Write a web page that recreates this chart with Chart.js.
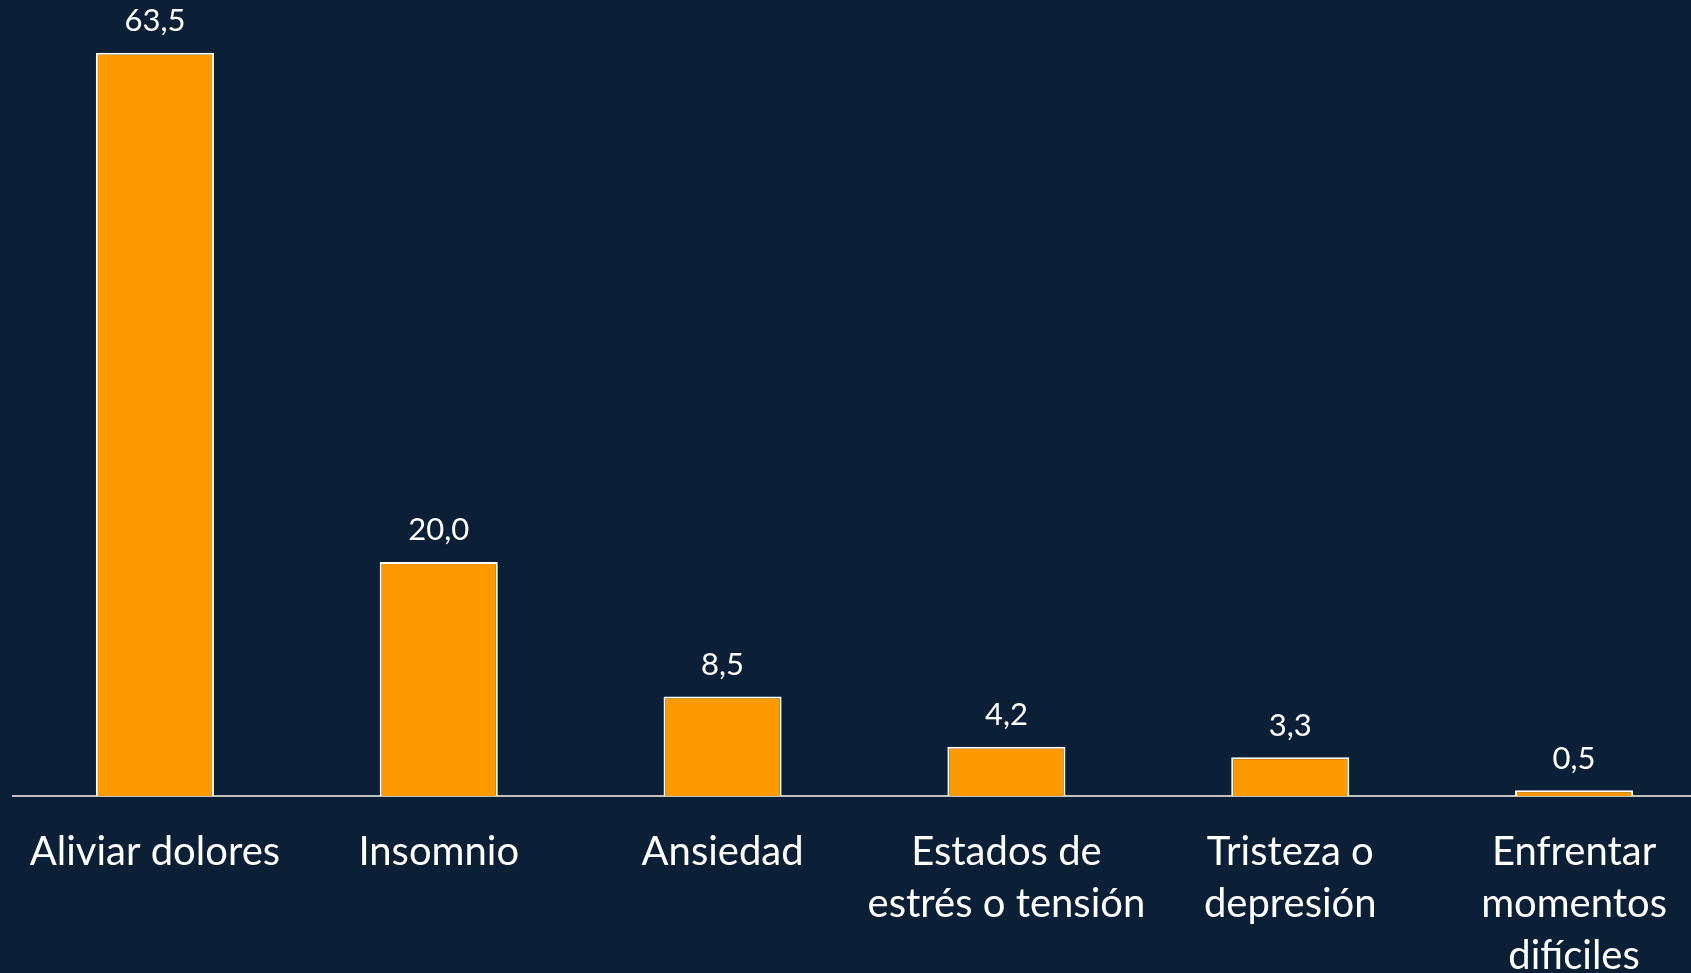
<!DOCTYPE html>
<html>
<head>
<meta charset="utf-8">
<script src="https://cdn.jsdelivr.net/npm/chart.js@4/dist/chart.umd.min.js"></script>
<style>
  html, body { margin: 0; padding: 0; background: #0b2037; overflow: hidden; }
  #wrap { width: 1716px; height: 973px; }
</style>
</head>
<body>
<div id="wrap"><canvas id="chart" width="1716" height="973"></canvas></div>
<script>
const categories = [
  'Aliviar dolores',
  'Insomnio',
  'Ansiedad',
  ['Estados de', 'estrés o tensión'],
  ['Tristeza o', 'depresión'],
  ['Enfrentar', 'momentos', 'difíciles']
];
const values = [63.5, 20.0, 8.5, 4.2, 3.3, 0.5];

const fontName = 'Lato, "Open Sans", sans-serif';

// draws the value above each bar, with a decimal comma
const valueLabels = {
  id: 'valueLabels',
  afterDatasetsDraw(chart) {
    const ctx = chart.ctx;
    const meta = chart.getDatasetMeta(0);
    ctx.save();
    ctx.fillStyle = '#ffffff';
    ctx.font = '31px ' + fontName;
    ctx.textAlign = 'center';
    ctx.textBaseline = 'bottom';
    meta.data.forEach((bar, i) => {
      ctx.fillText(values[i].toFixed(1).replace('.', ','), bar.x, bar.y - 16);
    });
    ctx.restore();
  }
};

new Chart(document.getElementById('chart'), {
  type: 'bar',
  data: {
    labels: categories,
    datasets: [{
      data: values,
      backgroundColor: '#ff9900',
      borderColor: '#ffffff',
      borderWidth: 2,
      categoryPercentage: 1,
      barPercentage: 0.416
    }]
  },
  options: {
    responsive: false,
    animation: false,
    layout: { padding: { left: 13, right: 0, top: 0, bottom: 0 } },
    plugins: { legend: { display: false }, tooltip: { enabled: false } },
    scales: {
      x: {
        grid: { display: false },
        border: { display: true, color: '#bfbfbf', width: 2 },
        ticks: {
          color: '#ffffff',
          font: { family: fontName, size: 40, lineHeight: 1.3 },
          padding: 22,
          maxRotation: 0,
          autoSkip: false
        },
        afterFit(scale) { scale.height = 177; }
      },
      y: {
        display: false,
        min: 0,
        max: 68
      }
    }
  },
  plugins: [valueLabels]
});
</script>
</body>
</html>
